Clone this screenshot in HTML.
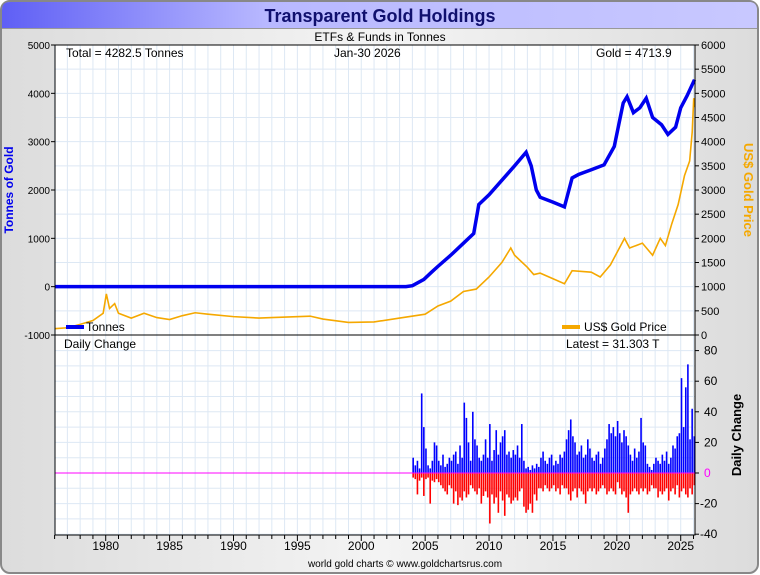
<!DOCTYPE html>
<html><head><meta charset="utf-8"><style>
body{margin:0;background:#fff;font-family:"Liberation Sans",sans-serif}
svg{display:block}
</style></head><body>
<svg id="c" width="760" height="575" viewBox="0 0 760 575" font-family="Liberation Sans, sans-serif">
<defs>
<linearGradient id="tb" x1="0" x2="1" y1="0" y2="0"><stop offset="0" stop-color="#5f5ff5"/><stop offset="0.35" stop-color="#b8b8ff"/><stop offset="1" stop-color="#c8c8ff"/></linearGradient>
<linearGradient id="bg" x1="0" x2="1"><stop offset="0" stop-color="#dcdcdc"/><stop offset="0.5" stop-color="#f4f4f4"/><stop offset="1" stop-color="#dcdcdc"/></linearGradient>
</defs>
<rect x="1" y="1" width="757" height="572" rx="9" fill="url(#bg)" stroke="#888" stroke-width="2"/>
<path d="M2,28 L2,10 Q2,2 10,2 L749,2 Q757,2 757,10 L757,28 Z" fill="url(#tb)"/>
<line x1="2" y1="28.5" x2="757" y2="28.5" stroke="#999"/>
<text x="380" y="22" text-anchor="middle" font-size="18" font-weight="bold" fill="#10106e">Transparent Gold Holdings</text>
<text x="380" y="41" text-anchor="middle" font-size="12">ETFs &amp; Funds in Tonnes</text>
<rect x="55" y="45" width="640" height="490" fill="#fff"/>
<g id="grid"></g>
<g id="marks"></g>
<g id="axes"></g>
<text x="66" y="57" font-size="12">Total = 4282.5 Tonnes</text>
<text x="334" y="57" font-size="12">Jan-30  2026</text>
<text x="596" y="57" font-size="12">Gold = 4713.9</text>
<line x1="66" y1="327" x2="84" y2="327" stroke="#0000ee" stroke-width="4"/>
<text x="86" y="331" font-size="12">Tonnes</text>
<line x1="562" y1="327" x2="580" y2="327" stroke="#f5a800" stroke-width="4"/>
<text x="584" y="331" font-size="12">US$ Gold Price</text>
<text x="64" y="348" font-size="12">Daily Change</text>
<text x="566" y="348" font-size="12">Latest = 31.303 T</text>
<text transform="translate(13,190) rotate(-90)" text-anchor="middle" font-size="12" font-weight="bold" fill="#0000ee">Tonnes of Gold</text>
<text transform="translate(744,190) rotate(90)" text-anchor="middle" font-size="13" font-weight="bold" fill="#f5a800">US$ Gold Price</text>
<text transform="translate(741,435) rotate(-90)" text-anchor="middle" font-size="13" font-weight="bold">Daily Change</text>
<text x="405" y="567" text-anchor="middle" font-size="10">world gold charts © www.goldchartsrus.com</text>
</svg>
<script>
const tonneYears=[1976,2003.5,2004,2004.9,2005.5,2006,2007,2008,2008.8,2009.2,2010,2011,2012,2012.9,2013.3,2013.7,2014,2015,2015.9,2016.5,2017,2018,2019,2019.8,2020.5,2020.8,2021.3,2021.8,2022.3,2022.8,2023.5,2024.0,2024.6,2025,2025.5,2026.08];
const tonneValues=[0,0,20,150,300,420,650,900,1100,1700,1900,2200,2500,2780,2500,2000,1850,1750,1650,2250,2320,2420,2520,2900,3800,3930,3600,3700,3900,3500,3350,3150,3300,3700,3950,4282];
const goldYears=[1976,1977,1978,1979,1979.8,1980.05,1980.3,1980.7,1981,1982,1983,1984,1985,1986,1987,1988,1990,1992,1993,1996,1997,1999,2001,2003,2005,2006,2007,2008,2009,2010,2011,2011.7,2012,2013,2013.5,2014,2015.9,2016.5,2018,2018.7,2019.5,2020.6,2021,2022,2022.8,2023.4,2023.8,2024.3,2024.8,2025.3,2025.7,2025.9,2026.02,2026.08];
const goldValues=[130,150,220,300,450,850,550,650,450,350,450,360,320,400,460,430,380,350,360,390,330,260,270,350,430,600,700,900,950,1200,1500,1800,1650,1400,1250,1280,1060,1330,1300,1200,1450,2000,1800,1900,1650,2000,1850,2300,2700,3300,3600,4200,4900,4714];
const dailyStart=2004, dailyPerYear=6;
const dailyPos=[10,5,8,3,52,30, 16,5,3,8,20,18, 8,5,12,4,6,10, 8,12,14,6,18,10, 46,36,20,8,40,22, 18,10,8,12,22,10, 32,8,15,28,12,20, 24,28,12,14,10,15, 12,18,10,32,8,3, 4,2,5,3,6,4, 10,14,8,6,10,12, 5,8,6,12,10,14, 22,28,35,24,20,12, 14,18,10,12,22,16, 10,8,12,14,6,10, 16,22,32,26,30,24, 34,26,20,28,24,18, 12,8,16,10,14,36, 20,18,6,4,2,6, 10,8,6,12,8,14, 6,10,18,16,24,26, 62,30,56,71,22,42, 24];
const dailyNeg=[-3,-4,-14,-5,-3,-15, -4,-3,-20,-5,-6,-4, -6,-8,-10,-12,-14,-8, -10,-20,-12,-21,-16,-18, -12,-16,-14,-8,-10,-12, -14,-10,-20,-15,-12,-16, -33,-14,-20,-16,-26,-12, -18,-28,-14,-16,-20,-18, -16,-18,-12,-10,-22,-26, -24,-20,-26,-14,-18,-10, -10,-12,-8,-10,-12,-10, -8,-12,-10,-14,-8,-10, -10,-14,-18,-12,-10,-16, -10,-12,-14,-20,-12,-10, -12,-10,-14,-12,-10,-8, -10,-14,-12,-10,-12,-14, -6,-10,-14,-12,-16,-26, -14,-12,-10,-12,-14,-10, -12,-10,-14,-12,-8,-10, -10,-16,-12,-14,-12,-10, -18,-12,-10,-14,-8,-16, -12,-10,-14,-16,-10,-14, -8];
const yearTicks=[1980,1985,1990,1995,2000,2005,2010,2015,2020,2025];
const leftTicks=[5000,4000,3000,2000,1000,0,-1000];
const rightTicks=[6000,5500,5000,4500,4000,3500,3000,2500,2000,1500,1000,500,0];
const dailyTicks=[80,60,40,20,0,-20,-40];

const NS='http://www.w3.org/2000/svg';
const X0=55,X1=695,T0=45,T1=335,B1=535;
const x=y=>X0+(y-1976)*(575/45)-0.4;
const yL=v=>T0+(5000-v)*(T1-T0)/6000;
const yR=v=>T1-v*(T1-T0)/6000;
const yD=v=>473-v*1.53;
function el(p,tag,a){const e=document.createElementNS(NS,tag);for(const k in a)e.setAttribute(k,a[k]);p.appendChild(e);return e;}
const grid=document.getElementById('grid'),marks=document.getElementById('marks'),axes=document.getElementById('axes');
for(let yr=1976;yr<=2026;yr++){const l=el(grid,'line',{x1:x(yr),x2:x(yr),y1:T0,y2:B1,stroke:'#dde8f4','stroke-width':1});

}
for(let v=-1000;v<=5000;v+=500){const l=el(grid,'line',{x1:X0,x2:X1,y1:yL(v),y2:yL(v),stroke:'#dde8f4'});

}
for(let v=-40;v<=80;v+=10){const l=el(grid,'line',{x1:X0,x2:X1,y1:yD(v),y2:yD(v),stroke:'#dde8f4'});

}
dailyPos.forEach((v,i)=>{const t=dailyStart+i/dailyPerYear;const r=el(marks,'rect',{x:x(t),y:yD(v),width:1.6,height:yD(0)-yD(v),fill:'#0000ff'});

});
dailyNeg.forEach((v,i)=>{const t=dailyStart+i/dailyPerYear;const r=el(marks,'rect',{x:x(t),y:yD(0),width:1.6,height:yD(v)-yD(0),fill:'#ff0000'});

});
const zl=el(marks,'line',{x1:X0,x2:X1,y1:yD(0),y2:yD(0),stroke:'#ff00ff'});


const gp=el(marks,'polyline',{points:goldYears.map((t,i)=>x(t)+','+yR(goldValues[i])).join(' '),fill:'none',stroke:'#f5a800','stroke-width':1.6});


const tp=el(marks,'polyline',{points:tonneYears.map((t,i)=>x(t)+','+yL(tonneValues[i])).join(' '),fill:'none',stroke:'#0000ee','stroke-width':3.5});


const fr=el(axes,'rect',{x:X0,y:T0,width:X1-X0,height:B1-T0,fill:'none',stroke:'#000'});


const sep=el(axes,'line',{x1:X0,x2:X1,y1:T1,y2:T1,stroke:'#000'});


for(let yr=1976;yr<=2026;yr++){const tk=el(axes,'line',{x1:x(yr),x2:x(yr),y1:B1,y2:B1+(yearTicks.includes(yr)?6:4),stroke:'#000'});

}
yearTicks.forEach(yr=>{const t=el(axes,'text',{x:x(yr),y:B1+15,'text-anchor':'middle','font-size':12});t.textContent=yr;

});
leftTicks.forEach(v=>{el(axes,'line',{x1:X0-4,x2:X0,y1:yL(v),y2:yL(v),stroke:'#000'});const t=el(axes,'text',{x:X0-5,y:yL(v)+4,'text-anchor':'end','font-size':10});t.textContent=v;

});
rightTicks.forEach(v=>{el(axes,'line',{x1:X1,x2:X1+4,y1:yR(v),y2:yR(v),stroke:'#000'});const t=el(axes,'text',{x:X1+6,y:yR(v)+4,'font-size':11});t.textContent=v;

});
dailyTicks.forEach(v=>{el(axes,'line',{x1:X1,x2:X1+4,y1:yD(v),y2:yD(v),stroke:'#000'});const t=el(axes,'text',{x:X1+(v<0?5:9),y:yD(v)+4,'font-size':12,fill:v===0?'#ff00ff':'#000'});t.textContent=v;

});
</script>
</body></html>
